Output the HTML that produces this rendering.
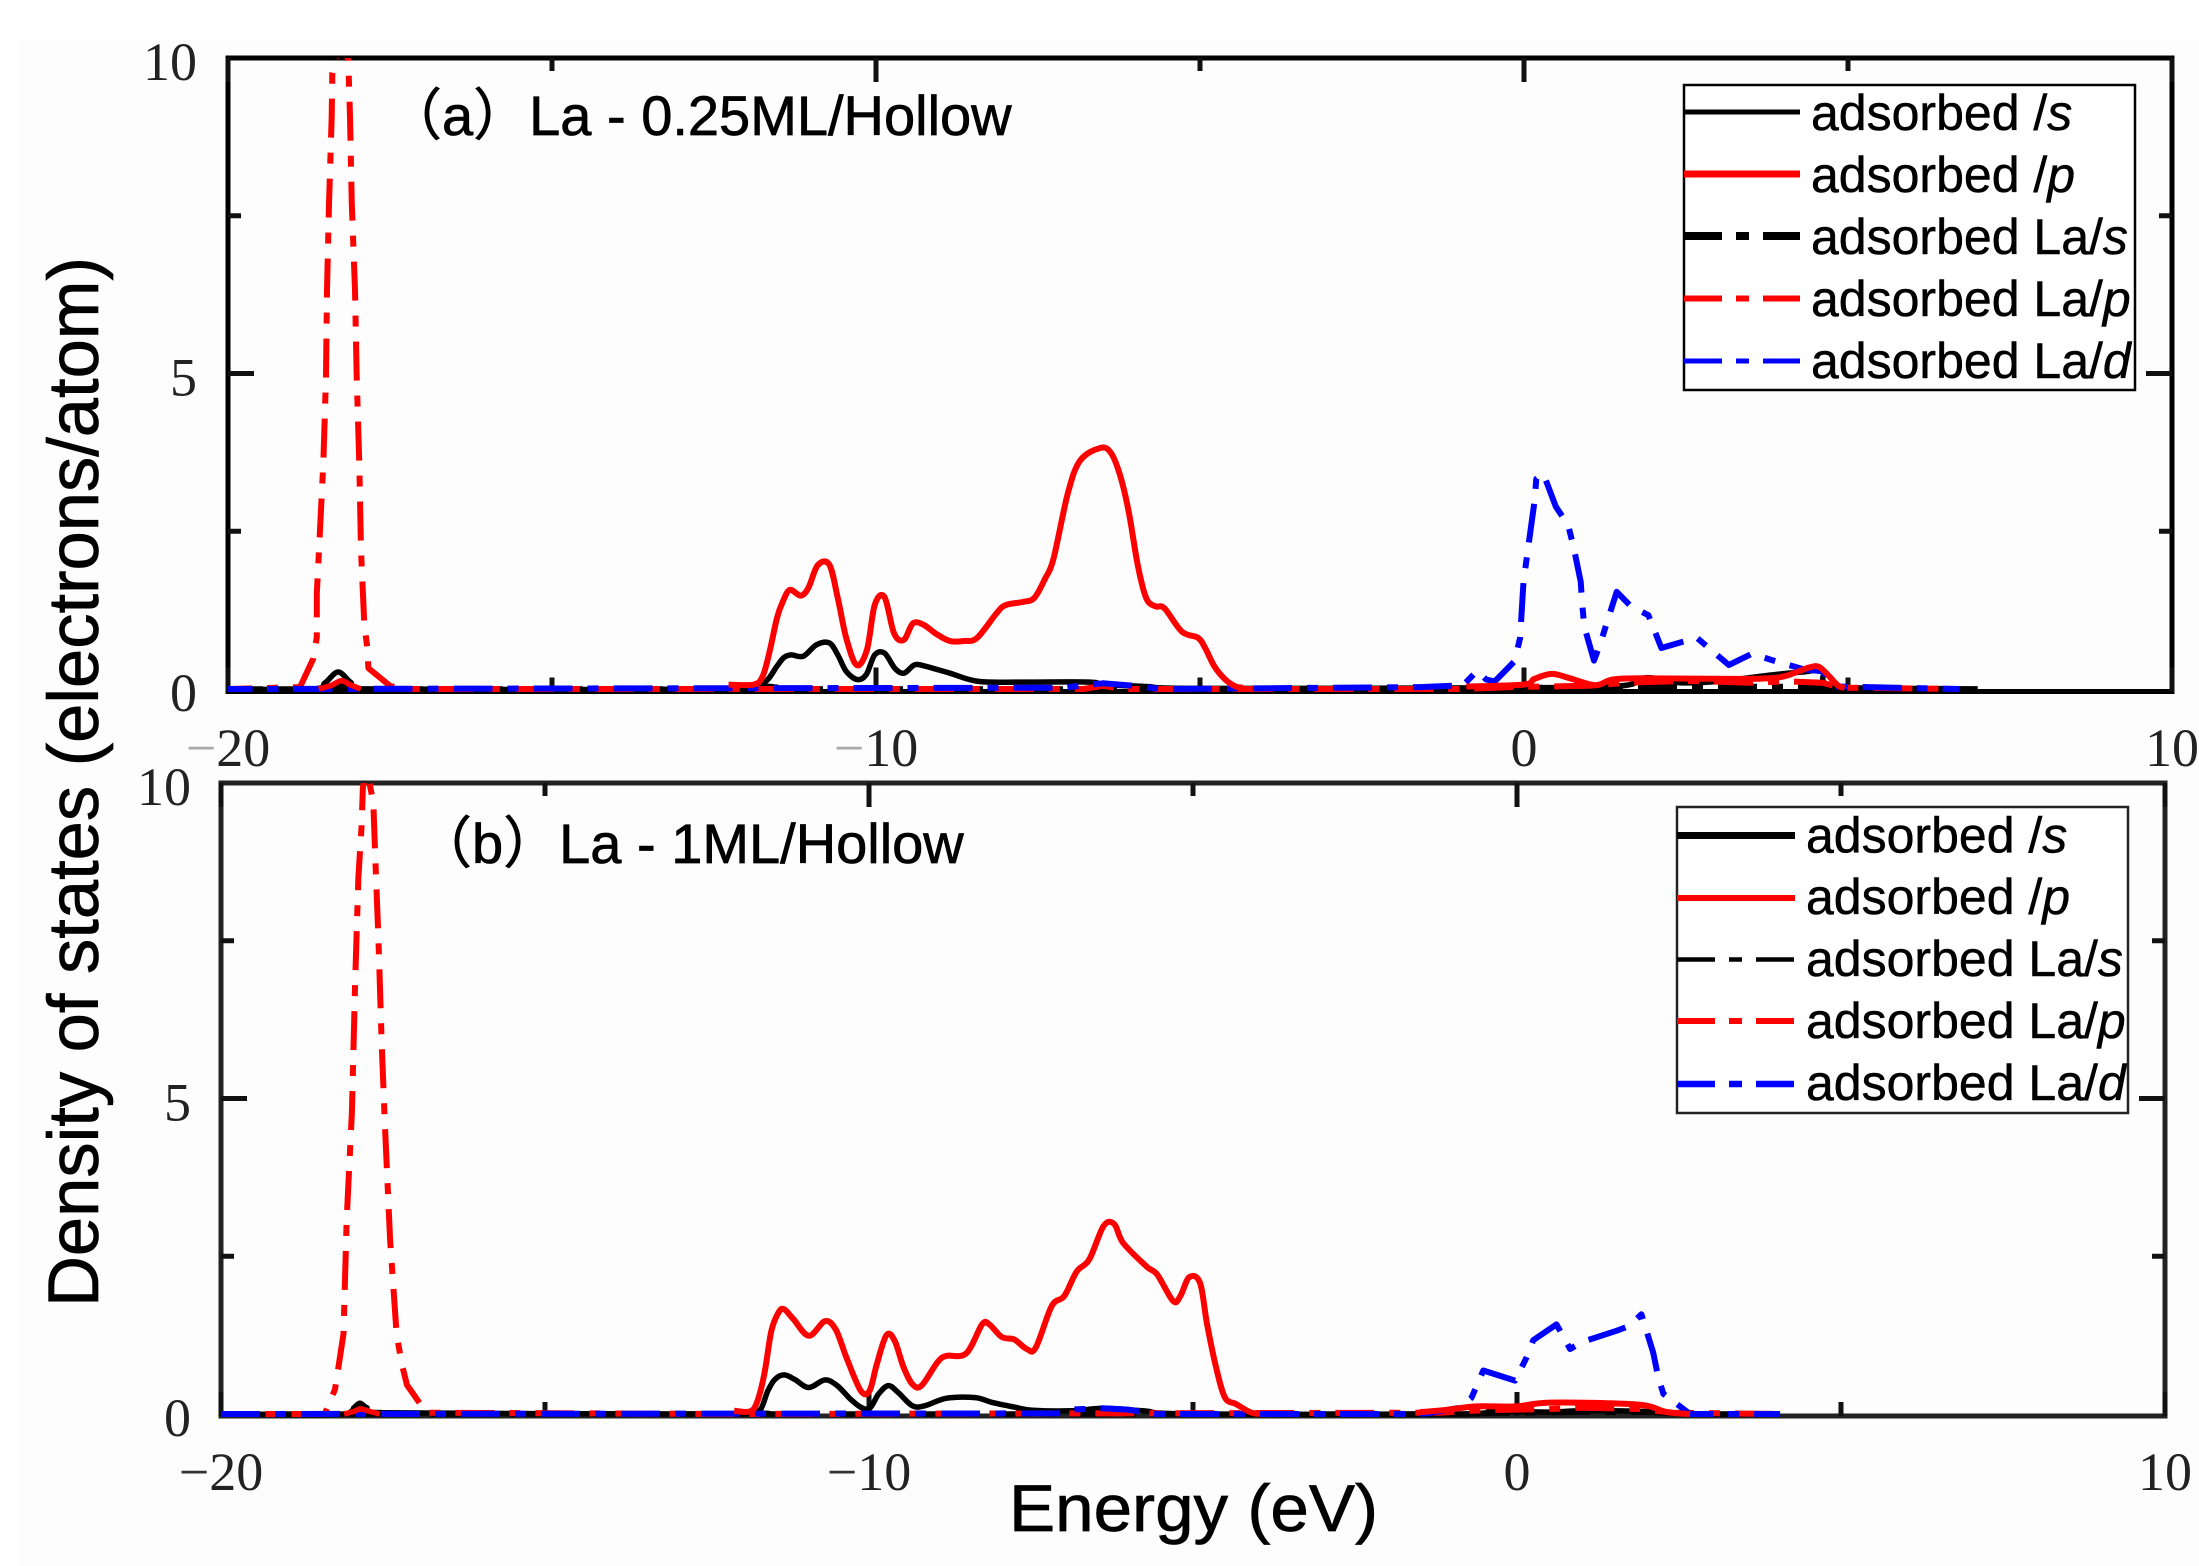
<!DOCTYPE html>
<html lang="en">
<head>
<meta charset="utf-8">
<title>Density of states</title>
<style>
html,body{margin:0;padding:0;background:#fff;}
svg{display:block;}
.serif{font-family:"Liberation Serif",serif;font-size:54px;fill:#222;}
.sans{font-family:"Liberation Sans","Noto Sans CJK SC",sans-serif;fill:#000;stroke:#000;stroke-width:0.7px;}
.leg{font-family:"Liberation Sans",sans-serif;font-size:50px;fill:#000;stroke:#000;stroke-width:0.5px;}
</style>
</head>
<body>
<svg id="chart" xmlns="http://www.w3.org/2000/svg" width="2199" height="1566" viewBox="0 0 2199 1566">
  <defs>
    <clipPath id="clip-a"><rect x="228" y="58" width="1944" height="640"/></clipPath>
    <clipPath id="clip-b"><rect x="221" y="783" width="1944" height="640"/></clipPath>
  </defs>
  <rect x="0" y="0" width="2199" height="1566" fill="#ffffff"/>
  <rect x="18" y="40" width="2181" height="1526" fill="#fdfdfd"/>

  <g id="panel-a"></g>
  <g id="panel-b"></g>

  <text class="sans" transform="translate(98,782) rotate(-90)" text-anchor="middle" font-size="71" textLength="1050" lengthAdjust="spacingAndGlyphs">Density of states (electrons/atom)</text>
  <text class="sans" x="1009" y="1531" font-size="66" textLength="369" lengthAdjust="spacingAndGlyphs">Energy (eV)</text>

  <text class="sans" x="386" y="135" font-size="56">（a）La - 0.25ML/Hollow</text>
  <text class="sans" x="416" y="863" font-size="56">（b）La - 1ML/Hollow</text>

  <g>
    <rect x="1684" y="85" width="451" height="305" fill="#fff" stroke="#000" stroke-width="2.5"/>
    <line x1="1684" x2="1800" y1="112" y2="112" stroke="#000" stroke-width="5"/>
    <line x1="1684" x2="1800" y1="174" y2="174" stroke="#f00" stroke-width="7"/>
    <line x1="1684" x2="1800" y1="236" y2="236" stroke="#000" stroke-width="8" stroke-dasharray="38 14 13 14 38"/>
    <line x1="1684" x2="1800" y1="298.5" y2="298.5" stroke="#f00" stroke-width="6" stroke-dasharray="38 14 13 14 38"/>
    <line x1="1684" x2="1800" y1="361" y2="361" stroke="#00f" stroke-width="5" stroke-dasharray="38 14 13 14 38"/>
    <text class="leg" x="1811" y="130">adsorbed /<tspan font-style="italic">s</tspan></text>
    <text class="leg" x="1811" y="192">adsorbed /<tspan font-style="italic">p</tspan></text>
    <text class="leg" x="1811" y="254">adsorbed La/<tspan font-style="italic">s</tspan></text>
    <text class="leg" x="1811" y="316">adsorbed La/<tspan font-style="italic">p</tspan></text>
    <text class="leg" x="1811" y="378">adsorbed La/<tspan font-style="italic">d</tspan></text>
  </g>

  <g>
    <rect x="1677" y="807" width="451" height="306" fill="#fff" stroke="#222" stroke-width="2.5"/>
    <line x1="1677" x2="1795" y1="835.5" y2="835.5" stroke="#000" stroke-width="7"/>
    <line x1="1677" x2="1795" y1="898" y2="898" stroke="#f00" stroke-width="6"/>
    <line x1="1677" x2="1795" y1="959.5" y2="959.5" stroke="#000" stroke-width="4.5" stroke-dasharray="38 14 13 14 38"/>
    <line x1="1677" x2="1795" y1="1021" y2="1021" stroke="#f00" stroke-width="6" stroke-dasharray="38 14 13 14 38"/>
    <line x1="1677" x2="1795" y1="1084" y2="1084" stroke="#00f" stroke-width="6.5" stroke-dasharray="38 14 13 14 38"/>
    <text class="leg" x="1806" y="852.5">adsorbed /<tspan font-style="italic">s</tspan></text>
    <text class="leg" x="1806" y="914">adsorbed /<tspan font-style="italic">p</tspan></text>
    <text class="leg" x="1806" y="976">adsorbed La/<tspan font-style="italic">s</tspan></text>
    <text class="leg" x="1806" y="1038">adsorbed La/<tspan font-style="italic">p</tspan></text>
    <text class="leg" x="1806" y="1100">adsorbed La/<tspan font-style="italic">d</tspan></text>
  </g>
</svg>

<script>
/* ---------- axis data ---------- */
const xMajorTicks = [-20, -10, 0, 10];
const xMinorTicks = [-15, -5, 5];
const yMajorTicks = [0, 5, 10];
const yMinorTicks = [2.5, 7.5];
const xTickLabels = ['\u221220', '\u221210', '0', '10'];
const yTickLabels = ['0', '5', '10'];

/* ---------- panel (a) series ---------- */
const energyA_s = [-20,-18.7,-18.5,-18.3,-18.1,-17.9,-12,-11.81,-11.67,-11.53,-11.42,-11.31,-11.12,-10.92,-10.72,-10.59,-10.46,-10.29,-10.15,-10.02,-9.87,-9.71,-9.57,-9.41,-9.27,-8.86,-8.42,-7.76,-6.71,-6.49,-5.83,-5,0,1.5,1.9,2.4,3,3.8,4.3,4.6,4.85,7];
const dosA_s = [0,0,0.1,0.27,0.1,0,0,0.07,0.15,0.36,0.5,0.54,0.52,0.7,0.73,0.54,0.28,0.15,0.23,0.54,0.57,0.33,0.25,0.38,0.37,0.25,0.12,0.11,0.11,0.07,0.04,0.01,0.02,0.05,0.18,0.1,0.12,0.22,0.27,0.28,0.03,0];

const energyA_laS = [-20,-12,-5,-1,0,1,2,3,4,4.8,7];
const dosA_laS = [0,0,0,0,0.02,0.03,0.04,0.04,0.04,0.02,0];

const energyA_laP = [-20,-18.889,-18.684,-18.63,-18.63,-18.596,-18.529,-18.488,-18.472,-18.441,-18.4,-18.39,-18.27,-18.143,-18.117,-18.09,-18.04,-18.014,-17.973,-17.948,-17.896,-17.85,-17.834,-17.5,-17.3,-12,-6.8,-6.5,-6.2,-1,-0.2,1,1.6,2.5,3.5,4.1,4.6,4.9,6.7];
const dosA_laP = [0,0.03,0.48,0.82,1.51,2.2,3.57,4.95,6.32,7.69,9.07,9.76,10.27,9.97,9.07,7.69,6.32,4.95,3.57,2.2,1.03,0.65,0.33,0.05,0,0,0,0.05,0,0,0.03,0.05,0.1,0.13,0.1,0.12,0.1,0.02,0];

const energyA_laD = [-20,-7.1,-6.8,-6.5,-6.0,-5.6,-1.605,-0.94,-0.72,-0.585,-0.45,-0.145,-0.06,-0.007,0.16,0.19,0.3,0.49,0.68,0.765,0.875,0.9,0.93,1.08,1.18,1.43,1.65,1.92,2.12,2.45,2.67,3.16,3.52,3.82,4.32,4.6,4.84,6.72];
const dosA_laD = [0,0.02,0.06,0.09,0.05,0,0.03,0.06,0.29,0.15,0.12,0.44,0.81,1.7,2.96,3.33,3.41,2.89,2.6,2.25,1.7,1.33,0.99,0.45,0.73,1.54,1.31,1.17,0.65,0.75,0.81,0.38,0.56,0.46,0.31,0.28,0.04,0];

const energyA_pCore = [-18.6,-18.4,-18.25,-18.1,-17.95];
const dosA_pCore = [0,0.06,0.13,0.06,0];

const energyA_pValence = [-12.275,-11.89,-11.75,-11.64,-11.53,-11.44,-11.33,-11.16,-11.04,-10.9,-10.72,-10.59,-10.46,-10.3,-10.14,-10.02,-9.87,-9.72,-9.57,-9.43,-9.27,-9.08,-8.86,-8.64,-8.44,-8.14,-8,-7.73,-7.56,-7.4,-7.26,-7.04,-6.85,-6.54,-6.38,-6.24,-6.1,-5.96,-5.83,-5.69,-5.55,-5.28,-5.03,-4.92,-4.78,-4.61,-4.45,-4.34];
const dosA_pValence = [0.07,0.07,0.2,0.6,1.12,1.38,1.57,1.48,1.61,1.96,1.97,1.44,0.81,0.38,0.62,1.33,1.46,0.88,0.78,1.04,1.02,0.88,0.76,0.76,0.81,1.2,1.33,1.38,1.44,1.73,2.07,3.1,3.62,3.82,3.75,3.41,2.81,1.96,1.44,1.31,1.28,0.91,0.81,0.65,0.36,0.15,0.04,0.02];

const energyA_pConduction = [-0.89,-0.007,0.16,0.43,0.71,1.1,1.37,1.87,3.25,3.91,4.24,4.4,4.57,4.84,4.95];
const dosA_pConduction = [0.04,0.07,0.16,0.24,0.17,0.06,0.15,0.17,0.16,0.18,0.28,0.34,0.34,0.06,0.02];

/* ---------- panel (b) series ---------- */
const energyB_s = [-20,-18.1,-17.95,-17.855,-17.75,-17.5,-12,-11.81,-11.67,-11.56,-11.45,-11.31,-11.15,-10.93,-10.68,-10.49,-10.29,-10.13,-9.99,-9.85,-9.7,-9.55,-9.33,-9.14,-8.8,-8.36,-8.09,-7.76,-7.48,-6.88,-6.38,-5.77,-5,-1,-0.4,0,0.5,1,2,2.6,4];
const dosB_s = [0,0,0.1,0.17,0.1,0.02,0,0.03,0.08,0.37,0.55,0.62,0.55,0.42,0.54,0.45,0.24,0.11,0.09,0.32,0.45,0.34,0.13,0.13,0.25,0.26,0.18,0.11,0.06,0.05,0.09,0.05,0,0,0.04,0.04,0.03,0.05,0.04,0,0];

const energyB_laS = [-20,-12,-5,-1,0,1,2,2.6,4];
const dosB_laS = [0,0,0,0,0.02,0.03,0.03,0,0];

const energyB_laP = [-20,-18.4,-18.24,-18.19,-18.11,-18.06,-17.98,-17.93,-17.88,-17.83,-17.81,-17.75,-17.65,-17.62,-17.57,-17.52,-17.47,-17.39,-17.29,-17.21,-17.13,-16.83,-12,-1.2,-0.5,0.5,1,1.9,2.4,4.06];
const dosB_laP = [0,0,0.39,0.73,1.27,3.09,4.78,6.82,8.51,9.32,9.93,10.2,9.7,8.85,7.5,5.87,4.58,2.76,1.27,0.79,0.46,0.02,0,0.02,0.06,0.08,0.1,0.08,0.02,0];

const energyB_laD = [-20,-7.1,-6.9,-6.4,-6.0,-5.6,-1.81,-1.39,-0.88,-0.7,-0.52,-0.03,0.15,0.25,0.61,0.82,1,1.54,1.74,1.92,2.1,2.18,2.26,2.67,4.06];
const dosB_laD = [0,0.01,0.07,0.09,0.07,0,0,0.01,0.1,0.26,0.69,0.53,0.9,1.17,1.42,1.03,1.14,1.32,1.4,1.58,0.98,0.58,0.32,0,0];

const energyB_pCore = [-18.1,-17.95,-17.85,-17.7,-17.55];
const dosB_pCore = [0,0.04,0.08,0.04,0];

const energyB_pValence = [-12.08,-11.84,-11.73,-11.616,-11.506,-11.395,-11.31,-11.164,-10.927,-10.68,-10.514,-10.35,-10.128,-9.99,-9.88,-9.73,-9.604,-9.466,-9.329,-9.19,-8.943,-8.805,-8.5,-8.254,-8.144,-7.95,-7.758,-7.565,-7.427,-7.18,-6.986,-6.793,-6.6,-6.38,-6.215,-6.077,-5.72,-5.553,-5.306,-5.195,-5.057,-4.892,-4.782,-4.644,-4.506,-4.34,-4.12,-3.97];
const dosB_pValence = [0.05,0.04,0.18,0.63,1.32,1.61,1.66,1.5,1.24,1.47,1.34,0.9,0.37,0.37,0.79,1.25,1.16,0.74,0.47,0.45,0.82,0.92,0.96,1.42,1.42,1.22,1.18,1.03,1.05,1.71,1.87,2.26,2.45,2.98,3.01,2.71,2.34,2.21,1.79,1.87,2.17,2.08,1.42,0.74,0.26,0.16,0.03,0];

const energyB_pConduction = [-1.5,-1.14,-0.62,-0.01,0.51,1.85,2.31,2.67];
const dosB_pConduction = [0.03,0.06,0.12,0.12,0.18,0.15,0.03,0];

/* ---------- drawing ---------- */
const SVGNS = 'http://www.w3.org/2000/svg';
const DASH_DOT = '39 15 11 15';

function makeScales(left, y0) {
  return {
    x: function (e) { return left + (e + 20) * 64.8; },
    y: function (v) { return y0 - v * 63.1; }
  };
}

function straightPath(pts) {
  let d = '';
  for (let i = 0; i < pts.length; i++) {
    d += (i ? 'L' : 'M') + pts[i][0].toFixed(1) + ' ' + pts[i][1].toFixed(1);
  }
  return d;
}

function smoothPath(pts) {
  let d = 'M' + pts[0][0].toFixed(1) + ' ' + pts[0][1].toFixed(1);
  for (let i = 0; i < pts.length - 1; i++) {
    const p0 = pts[Math.max(i - 1, 0)];
    const p1 = pts[i];
    const p2 = pts[i + 1];
    const p3 = pts[Math.min(i + 2, pts.length - 1)];
    const c1x = p1[0] + (p2[0] - p0[0]) / 6;
    const c1y = p1[1] + (p2[1] - p0[1]) / 6;
    const c2x = p2[0] - (p3[0] - p1[0]) / 6;
    const c2y = p2[1] - (p3[1] - p1[1]) / 6;
    d += 'C' + c1x.toFixed(1) + ' ' + c1y.toFixed(1) + ' ' + c2x.toFixed(1) + ' ' + c2y.toFixed(1) + ' ' + p2[0].toFixed(1) + ' ' + p2[1].toFixed(1);
  }
  return d;
}

function drawSeries(group, clipId, scales, energies, values, seriesName, color, width, dashOffset) {
  const path = document.createElementNS(SVGNS, 'path');
  
  
  const pts = energies.map(function (e, i) { return [scales.x(e), scales.y(values[i])]; });
  path.setAttribute('d', dashOffset === null ? smoothPath(pts) : straightPath(pts));
  path.setAttribute('fill', 'none');
  path.setAttribute('stroke', color);
  path.setAttribute('stroke-width', width);
  path.setAttribute('stroke-linejoin', 'round');
  path.setAttribute('clip-path', 'url(#' + clipId + ')');
  if (dashOffset !== null) {
    path.setAttribute('stroke-dasharray', DASH_DOT);
    path.setAttribute('stroke-dashoffset', dashOffset);
  }
  group.appendChild(path);
}

function drawTick(group, x1, y1, x2, y2, name) {
  const tick = document.createElementNS(SVGNS, 'line');
  
  
  tick.setAttribute('x1', x1);
  tick.setAttribute('y1', y1);
  tick.setAttribute('x2', x2);
  tick.setAttribute('y2', y2);
  tick.setAttribute('stroke', '#111');
  tick.setAttribute('stroke-width', 5);
  group.appendChild(tick);
}

function drawAxes(group, prefix, scales, top, bottom, left, right, xLabelBase, yLabelRight, minusColor) {
  xMajorTicks.forEach(function (t, i) {
    drawTick(group, scales.x(t), bottom, scales.x(t), bottom - 24, prefix + '-x-major-tick-bottom');
    drawTick(group, scales.x(t), top, scales.x(t), top + 24, prefix + '-x-major-tick-top');
    const label = document.createElementNS(SVGNS, 'text');
    
    
    label.setAttribute('class', 'serif');
    label.setAttribute('x', scales.x(t));
    label.setAttribute('y', xLabelBase);
    label.setAttribute('text-anchor', 'middle');
    const s = xTickLabels[i];
    if (s.charAt(0) === '\u2212') {
      const minus = document.createElementNS(SVGNS, 'tspan');
      minus.setAttribute('fill', minusColor);
      minus.textContent = '\u2212';
      label.appendChild(minus);
      label.appendChild(document.createTextNode(s.slice(1)));
    } else {
      label.textContent = s;
    }
    group.appendChild(label);
  });
  xMinorTicks.forEach(function (t) {
    drawTick(group, scales.x(t), bottom, scales.x(t), bottom - 14, prefix + '-x-minor-tick-bottom');
    drawTick(group, scales.x(t), top, scales.x(t), top + 13, prefix + '-x-minor-tick-top');
  });
  yMajorTicks.forEach(function (t, i) {
    if (t > 0 && t < 10) {
      drawTick(group, left, scales.y(t), left + 26, scales.y(t), prefix + '-y-major-tick-left');
      drawTick(group, right, scales.y(t), right - 26, scales.y(t), prefix + '-y-major-tick-right');
    }
    const label = document.createElementNS(SVGNS, 'text');
    
    
    label.setAttribute('class', 'serif');
    label.setAttribute('x', yLabelRight);
    label.setAttribute('y', scales.y(t) + 22);
    label.setAttribute('text-anchor', 'end');
    label.textContent = yTickLabels[i];
    group.appendChild(label);
  });
  yMinorTicks.forEach(function (t) {
    drawTick(group, left, scales.y(t), left + 13, scales.y(t), prefix + '-y-minor-tick-left');
    drawTick(group, right, scales.y(t), right - 13, scales.y(t), prefix + '-y-minor-tick-right');
  });
}

function drawFrame(group, name, left, top, right, bottom, color) {
  const frame = document.createElementNS(SVGNS, 'rect');
  
  
  frame.setAttribute('x', left);
  frame.setAttribute('y', top);
  frame.setAttribute('width', right - left);
  frame.setAttribute('height', bottom - top);
  frame.setAttribute('fill', 'none');
  frame.setAttribute('stroke', color);
  frame.setAttribute('stroke-width', 5);
  group.appendChild(frame);
}

/* panel a */
const groupA = document.getElementById('panel-a');
const scalesA = makeScales(228, 689);
drawFrame(groupA, 'panel-a-frame', 228, 58, 2172, 691.5, '#000');
drawAxes(groupA, 'panel-a', scalesA, 58, 691.5, 228, 2172, 766, 197, '#aaa');
drawSeries(groupA, 'clip-a', scalesA, energyA_s, dosA_s, 'panel-a-series-s', '#000', 5.5, null);
drawSeries(groupA, 'clip-a', scalesA, energyA_laS, dosA_laS, 'panel-a-series-la-s', '#000', 5.5, 30);
drawSeries(groupA, 'clip-a', scalesA, energyA_laP, dosA_laP, 'panel-a-series-la-p', '#f00', 6, 15);
drawSeries(groupA, 'clip-a', scalesA, energyA_laD, dosA_laD, 'panel-a-series-la-d', '#00f', 6, 14.5);
drawSeries(groupA, 'clip-a', scalesA, energyA_pCore, dosA_pCore, 'panel-a-series-p-core', '#f00', 5.5, null);
drawSeries(groupA, 'clip-a', scalesA, energyA_pValence, dosA_pValence, 'panel-a-series-p-valence', '#f00', 6, null);
drawSeries(groupA, 'clip-a', scalesA, energyA_pConduction, dosA_pConduction, 'panel-a-series-p-conduction', '#f00', 6, null);

/* panel b */
const groupB = document.getElementById('panel-b');
const scalesB = makeScales(221, 1414);
drawFrame(groupB, 'panel-b-frame', 221, 783, 2165, 1416, '#222');
drawAxes(groupB, 'panel-b', scalesB, 783, 1416, 221, 2165, 1490, 191, '#333');
drawSeries(groupB, 'clip-b', scalesB, energyB_s, dosB_s, 'panel-b-series-s', '#000', 5.5, null);
drawSeries(groupB, 'clip-b', scalesB, energyB_laS, dosB_laS, 'panel-b-series-la-s', '#000', 5.5, 30);
drawSeries(groupB, 'clip-b', scalesB, energyB_laP, dosB_laP, 'panel-b-series-la-p', '#f00', 6, 9.5);
drawSeries(groupB, 'clip-b', scalesB, energyB_laD, dosB_laD, 'panel-b-series-la-d', '#00f', 6, 0);
drawSeries(groupB, 'clip-b', scalesB, energyB_pCore, dosB_pCore, 'panel-b-series-p-core', '#f00', 5.5, null);
drawSeries(groupB, 'clip-b', scalesB, energyB_pValence, dosB_pValence, 'panel-b-series-p-valence', '#f00', 6, null);
drawSeries(groupB, 'clip-b', scalesB, energyB_pConduction, dosB_pConduction, 'panel-b-series-p-conduction', '#f00', 6, null);
</script>
</body>
</html>
